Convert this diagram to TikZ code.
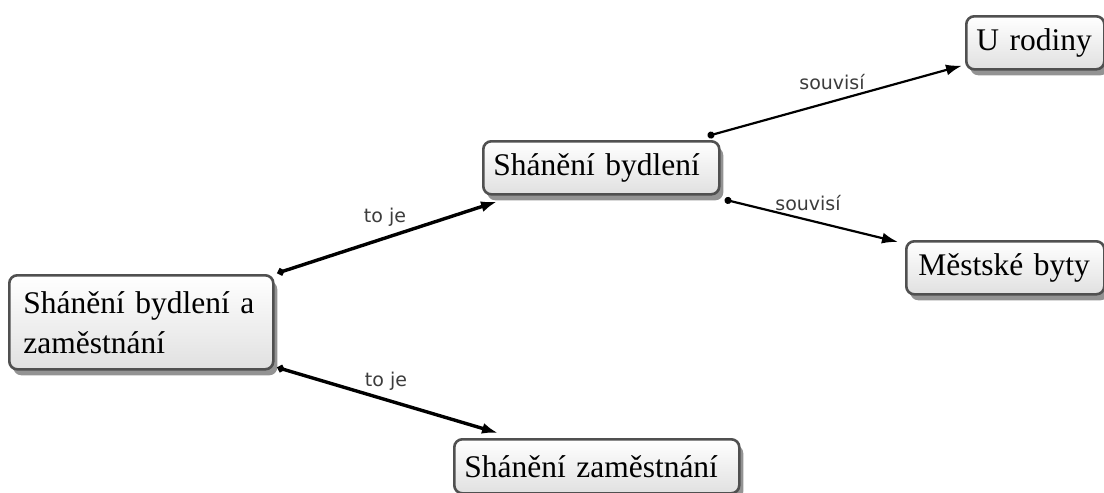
\documentclass[tikz,border=0pt]{standalone}
\usepackage{fontspec}
\setmainfont{Liberation Serif}
\newfontfamily\labfont{DejaVu Sans}
\usetikzlibrary{arrows.meta,shadows,calc}
\definecolor{boxborder}{RGB}{80,80,80}
\definecolor{labgray}{RGB}{60,60,60}
\begin{document}
\begin{tikzpicture}[x=1pt,y=-1pt,
  cbox/.style={draw=boxborder, line width=2.6pt, rounded corners=8pt,
    top color=white, bottom color=black!12, anchor=north west,
    align=left, inner ysep=0pt,
    font=\fontsize{31.5}{40}\selectfont,
    drop shadow={shadow xshift=4pt, shadow yshift=-6pt, fill=black!60, opacity=0.7}},
  lab/.style={font=\labfont\fontsize{19}{20}\selectfont, text=labgray, inner sep=0pt},
  thickedge/.style={line width=3.4pt, {Circle[length=7pt]}-{Latex[length=16pt,width=11pt]}},
  thinedge/.style={line width=2.2pt, {Circle[length=7pt]}-{Latex[length=16pt,width=11pt]}}
]
\useasboundingbox (0,0) rectangle (1104,493);
\fill[white] (0,0) rectangle (1104,493);

\node[cbox, minimum width=264pt, minimum height=94pt, inner xsep=14pt, text width=236pt] (root) at (8,274) {Shánění bydlení a\\zaměstnání};
\node[cbox, minimum width=236pt, minimum height=53pt, inner xsep=10pt, text width=216pt] (sb) at (482,140) {Shánění bydlení};
\node[cbox, minimum width=138pt, minimum height=53pt, inner xsep=10pt, text width=118pt] (ur) at (965,15) {U rodiny};
\node[cbox, minimum width=198pt, minimum height=53pt, inner xsep=12pt, text width=174pt] (mb) at (905,240) {Městské byty};
\node[cbox, minimum width=285pt, minimum height=54pt, inner xsep=10pt, text width=265pt] (zam) at (453,438) {Shánění zaměstnání};

\draw[thickedge] ([shift={(3,-1)}]root.north east) -- ([shift={(15,6)}]sb.south west);
\draw[thickedge] ([shift={(3,-3)}]root.south east) -- ([shift={(45,-5)}]zam.north west);
\draw[thinedge] ([shift={(-13,-4)}]sb.north east) -- ([shift={(-3,-5)}]ur.south west);
\draw[thinedge] ([shift={(4,4)}]sb.south east) -- ([shift={(-7,2)}]mb.north west);

\node[lab] (l1) at (385,217) {to je};
\node[lab] (l2) at (386,381) {to je};
\node[lab] (l3) at (832,82) {souvisí};
\node[lab] (l4) at (808,203) {souvisí};
\end{tikzpicture}
\end{document}
